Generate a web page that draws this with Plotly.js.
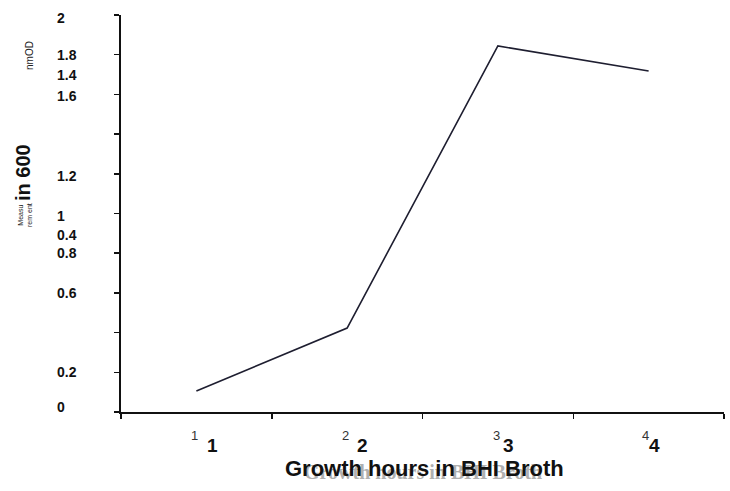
<!DOCTYPE html>
<html>
<head>
<meta charset="utf-8">
<script src="https://cdn.plot.ly/plotly-3.0.1.min.js"></script>
<style>html,body{margin:0;padding:0;background:#fff;}#chart{width:730px;height:491px;}</style>
</head>
<body>
<div id="chart"></div>
<script>
// Data
const hours = [1, 2, 3, 4];
const od600 = [0.106, 0.423, 1.844, 1.718];
const xTickLabels = ['1', '2', '3', '4'];
// y tick labels as printed in the original, with the value height at which each is printed
const yTickLabels = ['0', '0.2', '0.4', '0.6', '0.8', '1', '1.2', '1.4', '1.6', '1.8', '2'];
const yTickLabelAt = [0.025, 0.2, 0.89, 0.6, 0.8, 0.985, 1.19, 1.70, 1.59, 1.8, 1.985];
const yTickVals = [0, 0.2, 0.4, 0.6, 0.8, 1, 1.2, 1.4, 1.6, 1.8, 2];
const xTickVals = [0.5, 1.5, 2.5, 3.5, 4.5];
const xTitle = 'Growth hours in BHI Broth';

const FONT = 'Liberation Sans, Arial, sans-serif';
const annotations = [];

yTickLabels.forEach((t, i) => {
  annotations.push({
    text: t, xref: 'paper', x: 0, xanchor: 'left', xshift: -66,
    yref: 'y', y: yTickLabelAt[i], yanchor: 'middle',
    showarrow: false, font: {family: FONT, size: 14, color: '#111', weight: 'bold'}
  });
});

const smallShift = [-2, -2, -1, -3];
const boldShift = [16, 15, 11, 6];
xTickLabels.forEach((t, i) => {
  annotations.push({
    text: t, xref: 'x', x: hours[i], xshift: smallShift[i], xanchor: 'center',
    yref: 'paper', y: 0, yshift: -23, yanchor: 'middle',
    showarrow: false, font: {family: FONT, size: 13, color: '#333'}
  });
  annotations.push({
    text: t, xref: 'x', x: hours[i], xshift: boldShift[i], xanchor: 'center',
    yref: 'paper', y: 0, yshift: -33, yanchor: 'middle',
    showarrow: false, font: {family: FONT, size: 19, color: '#111', weight: 'bold'}
  });
});

// ghost (faded) copy of the x title, then the bold title
annotations.push({
  text: xTitle, xref: 'paper', x: 0.5, xshift: 0, xanchor: 'center',
  yref: 'paper', y: 0, yshift: -60, yanchor: 'middle',
  showarrow: false, font: {family: 'Liberation Serif, serif', size: 20, color: '#b0b0b0', weight: 'bold'}
});
annotations.push({
  text: xTitle, xref: 'paper', x: 0.5, xshift: 2, xanchor: 'center',
  yref: 'paper', y: 0, yshift: -56, yanchor: 'middle',
  showarrow: false, font: {family: FONT, size: 22, color: '#111', weight: 'bold'}
});

// y title fragments
annotations.push({
  text: 'in 600', xref: 'paper', x: 0, xshift: -98, xanchor: 'center',
  yref: 'paper', y: 1, yshift: -158, yanchor: 'middle', textangle: -90,
  showarrow: false, font: {family: FONT, size: 20, color: '#111', weight: 'bold'}
});
annotations.push({
  text: 'nmOD', xref: 'paper', x: 0, xshift: -92, xanchor: 'center',
  yref: 'paper', y: 1, yshift: -41, yanchor: 'middle', textangle: -90,
  showarrow: false, font: {family: FONT, size: 10, color: '#222'}
});
annotations.push({
  text: 'Measu<br>rem ent', xref: 'paper', x: 0, xshift: -96, xanchor: 'center',
  yref: 'paper', y: 1, yshift: -200, yanchor: 'middle', textangle: -90,
  showarrow: false, font: {family: FONT, size: 7, color: '#222'}
});

const trace = {
  x: hours, y: od600, type: 'scatter', mode: 'lines',
  line: {color: '#1e1e30', width: 1.6}, hoverinfo: 'x+y'
};

const layout = {
  width: 730, height: 491,
  margin: {l: 121, r: 6, t: 15, b: 79},
  paper_bgcolor: '#fff', plot_bgcolor: '#fff',
  showlegend: false,
  xaxis: {
    range: [0.5, 4.5], tickmode: 'array', tickvals: xTickVals,
    ticks: 'outside', ticklen: 5, tickwidth: 1.5, tickcolor: '#111',
    showticklabels: false, showgrid: false, zeroline: false,
    showline: true, linecolor: '#111', linewidth: 1.6
  },
  yaxis: {
    range: [0, 2], tickmode: 'array', tickvals: yTickVals,
    ticks: 'outside', ticklen: 5, tickwidth: 1.5, tickcolor: '#111',
    showticklabels: false, showgrid: false, zeroline: false,
    showline: true, linecolor: '#111', linewidth: 1.6
  },
  annotations: annotations
};

Plotly.newPlot('chart', [trace], layout, {displayModeBar: false, staticPlot: true});
</script>
</body>
</html>
